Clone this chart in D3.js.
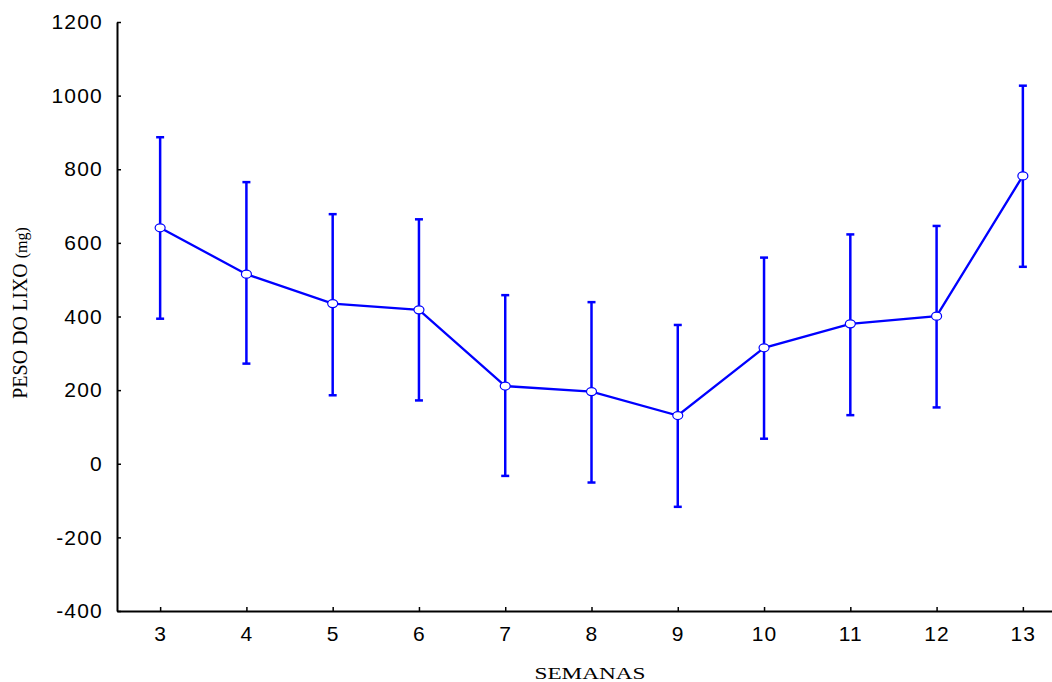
<!DOCTYPE html>
<html>
<head>
<meta charset="utf-8">
<script src="https://cdn.jsdelivr.net/npm/d3@7"></script>
<style>
  body { margin: 0; background: #fff; }
  svg { display: block; }
</style>
</head>
<body>
<div id="chart"></div>
<script>
// weeks and mean litter weight with error limits
var semanas = [3, 4, 5, 6, 7, 8, 9, 10, 11, 12, 13];
var media   = [641, 515, 435, 418, 211, 196, 131, 315, 380, 401, 782];
var superior = [887, 765, 678, 664, 458, 439, 377, 560, 623, 646, 1027];
var inferior = [394, 272, 186, 172, -33, -51, -117, 68, 132, 153, 535];
var yTicks = [-400, -200, 0, 200, 400, 600, 800, 1000, 1200];

var width = 1052, height = 682;
var blue = "#0000ff";

var svg = d3.select("#chart")
  .append("svg")
  .attr("width", width)
  .attr("height", height);

var x = d3.scaleLinear().domain([2.5, 13.5]).range([117, 1066]);
var y = d3.scaleLinear().domain([-400, 1200]).range([611, 22]);

function plain(d) { return String(d); }

// y axis
var yAxis = svg.append("g")
  .attr("transform", "translate(117,0)")
  .call(d3.axisLeft(y).tickValues(yTicks).tickFormat(plain)
    .tickSizeInner(-4).tickSizeOuter(0).tickPadding(14));
yAxis.select(".domain").attr("stroke-width", 2);
yAxis.selectAll(".tick line").attr("stroke-width", 1.5);
yAxis.selectAll(".tick text")
  .attr("font-family", "Liberation Sans, Arial, sans-serif")
  .attr("font-size", 21)
  .attr("letter-spacing", 1.2)
  .attr("fill", "#000");

// x axis
var xAxis = svg.append("g")
  .attr("transform", "translate(0,611)")
  .call(d3.axisBottom(x).tickValues(semanas).tickFormat(plain)
    .tickSizeInner(-4).tickSizeOuter(0).tickPadding(15));
xAxis.select(".domain").attr("stroke-width", 2);
xAxis.selectAll(".tick line").attr("stroke-width", 1.5);
xAxis.selectAll(".tick text")
  .attr("font-family", "Liberation Sans, Arial, sans-serif")
  .attr("font-size", 21)
  .attr("letter-spacing", 1.2)
  .attr("fill", "#000");

// axis titles
svg.append("text")
  .attr("x", 590).attr("y", 679)
  .attr("text-anchor", "middle")
  .attr("font-family", "Liberation Serif, Times New Roman, serif")
  .attr("font-size", 17)
  .attr("textLength", 111)
  .attr("lengthAdjust", "spacingAndGlyphs")
  .text("SEMANAS");

var yt = svg.append("text")
  .attr("transform", "translate(27,313) rotate(-90)")
  .attr("text-anchor", "middle")
  .attr("font-family", "Liberation Serif, Times New Roman, serif")
  .attr("font-size", 20);
yt.append("tspan").text("PESO DO LIXO ");
yt.append("tspan").attr("font-size", 16).text("(mg)");

var data = semanas.map(function (s, i) {
  return { s: s, m: media[i], hi: superior[i], lo: inferior[i] };
});

// error bars
var eb = svg.append("g").attr("stroke", blue).attr("stroke-width", 2.5);
eb.selectAll(".bar").data(data).enter().append("line")
  .attr("x1", function (d) { return x(d.s); })
  .attr("x2", function (d) { return x(d.s); })
  .attr("y1", function (d) { return y(d.hi); })
  .attr("y2", function (d) { return y(d.lo); });
eb.selectAll(".capt").data(data).enter().append("line")
  .attr("x1", function (d) { return x(d.s) - 4; })
  .attr("x2", function (d) { return x(d.s) + 4; })
  .attr("y1", function (d) { return y(d.hi); })
  .attr("y2", function (d) { return y(d.hi); });
eb.selectAll(".capb").data(data).enter().append("line")
  .attr("x1", function (d) { return x(d.s) - 4; })
  .attr("x2", function (d) { return x(d.s) + 4; })
  .attr("y1", function (d) { return y(d.lo); })
  .attr("y2", function (d) { return y(d.lo); });

// mean line
svg.append("path")
  .datum(data)
  .attr("fill", "none")
  .attr("stroke", blue)
  .attr("stroke-width", 2.3)
  .attr("d", d3.line()
    .x(function (d) { return x(d.s); })
    .y(function (d) { return y(d.m); }));

// markers
svg.selectAll(".pt").data(data).enter().append("ellipse")
  .attr("cx", function (d) { return x(d.s); })
  .attr("cy", function (d) { return y(d.m); })
  .attr("rx", 5)
  .attr("ry", 4)
  .attr("fill", "#fff")
  .attr("stroke", blue)
  .attr("stroke-width", 1.2);
</script>
</body>
</html>
